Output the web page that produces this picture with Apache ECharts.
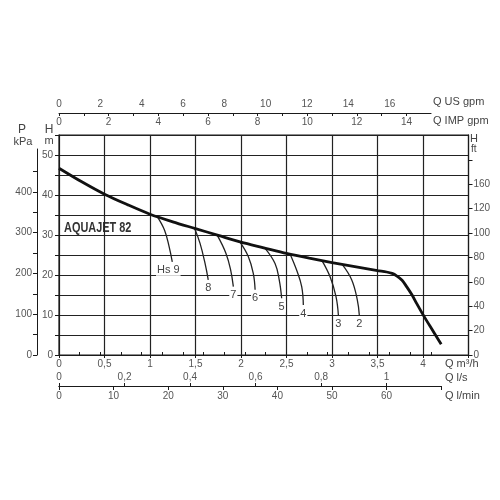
<!DOCTYPE html>
<html>
<head>
<meta charset="utf-8">
<script src="https://cdn.jsdelivr.net/npm/echarts@6/dist/echarts.min.js"></script>
<style>
html,body{margin:0;padding:0;background:#fff;}
#chart{width:500px;height:500px;}
</style>
</head>
<body>
<div id="chart"></div>
<script>
// ---- data ----
const mainQ = [0, 0.25, 0.5, 0.75, 1.0, 1.25, 1.5, 1.75, 2.0, 2.25, 2.5, 2.75, 3.0, 3.25, 3.5, 3.6, 3.66, 3.71, 3.77, 3.82, 3.88, 3.93, 4.0, 4.08, 4.2];
const mainH = [46.7, 43.3, 40.2, 37.6, 35.2, 33.3, 31.6, 29.9, 28.2, 26.8, 25.4, 24.2, 23.1, 22.1, 21.1, 20.75, 20.4, 19.8, 18.7, 17.1, 15.0, 12.9, 10.1, 7.1, 2.7];

const branchNames = ['Hs 9', '8', '7', '6', '5', '4', '3', '2'];
const branchQ = [
  [1.08, 1.16, 1.21, 1.245],
  [1.49, 1.55, 1.605, 1.64],
  [1.74, 1.835, 1.886, 1.916],
  [1.99, 2.08, 2.135, 2.155],
  [2.26, 2.374, 2.42, 2.447],
  [2.54, 2.61, 2.667, 2.685],
  [2.89, 2.978, 3.044, 3.07],
  [3.11, 3.216, 3.278, 3.3]
];
const branchH = [
  [34.6, 31.2, 27.1, 23.3],
  [31.6, 27.9, 22.9, 18.8],
  [29.9, 25.4, 21.3, 17.1],
  [28.2, 24.6, 20.4, 16.3],
  [26.8, 22.9, 18.8, 14.2],
  [25.2, 21.3, 17.1, 12.5],
  [23.6, 19.6, 14.6, 10.0],
  [22.7, 18.8, 13.8, 10.0]
];

// tick labels
const lsLabels = [0, 0.2, 0.4, 0.6, 0.8, 1];
const lminLabels = [0, 10, 20, 30, 40, 50, 60];
const lminTicks = [0, 10, 20, 30, 40, 50, 60, 70];
const usLabels = [0, 2, 4, 6, 8, 10, 12, 14, 16];
const usTicks = [0,1,2,3,4,5,6,7,8,9,10,11,12,13,14,15,16,17,18];
const impLabels = [0, 2, 4, 6, 8, 10, 12, 14];
const impTicks = [0,1,2,3,4,5,6,7,8,9,10,11,12,13,14];
const kpaLabels = [0, 100, 200, 300, 400];
const kpaTicks = [0, 50, 100, 150, 200, 250, 300, 350, 400, 450];
const ftTicks = [0, 20, 40, 60, 80, 100, 120, 140, 160];
const ftLabels = ['0', '20', '40', '60', '80', '100', '120', '160', ''];

// ---- unit conversions ----
const M3H_PER_LS = 3.6, M3H_PER_LMIN = 0.06, M3H_PER_USGPM = 0.227125, M3H_PER_IMPGPM = 0.272765;
const M_PER_KPA = 0.101972, M_PER_FT = 0.3048;

// ---- layout ----
const plotL = 59, plotR = 468.5, plotT = 135, plotB = 355;
const qMax = 4.5, hMax = 55;
const pxPerQ = (plotR - plotL) / qMax;
const pxPerM = (plotB - plotT) / hMax;
const lminEnd = 70, usEnd = 18;
const bottomQ = lminEnd * M3H_PER_LMIN;
const topQ = usEnd * M3H_PER_USGPM;
const kpaTop = 149;
const kpaMax = ((plotB - kpaTop) / pxPerM) / M_PER_KPA;

const FONT = 'Liberation Sans, Arial, sans-serif';
const lblColor = '#555';
const lineCol = '#1a1a1a';

const fmtComma = v => String(v).replace('.', ',');

const series = [{
  type: 'line', xAxisIndex: 0, yAxisIndex: 0,
  data: mainQ.map((q, i) => [q, mainH[i]]),
  smooth: 0.3, symbol: 'none',
  lineStyle: {color: '#111', width: 2.8}, z: 5, silent: true
}];
branchNames.forEach((name, b) => {
  const n = branchQ[b].length;
  series.push({
    type: 'line', xAxisIndex: 0, yAxisIndex: 0,
    data: branchQ[b].map((q, i) => {
      const d = {value: [q, branchH[b][i]]};
      if (i === n - 1) {
        d.label = {show: true, formatter: name, position: 'bottom', distance: 3,
          offset: b === 0 ? [-4, 0] : [0, 0],
          color: '#444', fontSize: 11, fontFamily: FONT,
          backgroundColor: '#fff', padding: [0, 1]};
      }
      return d;
    }),
    smooth: 0.4, symbol: 'circle', symbolSize: 0.01, showSymbol: true,
    itemStyle: {color: 'transparent', borderWidth: 0},
    label: {show: false},
    lineStyle: {color: '#222', width: 1.3}, z: 4, silent: true
  });
});

const axLine = {show: true, lineStyle: {color: lineCol, width: 1}};
const lbl = (extra) => Object.assign({color: lblColor, fontSize: 10, fontFamily: FONT}, extra);
const txt = (x, y, text, size, align, extra) => Object.assign({type: 'text', x: x, y: y,
  style: {text: text, font: size + 'px ' + FONT, fill: '#444', align: align, verticalAlign: 'middle', textAlign: align, textVerticalAlign: 'middle'}}, extra || {});

const option = {
  animation: false,
  backgroundColor: '#fff',
  grid: [
    {left: plotL, top: plotT, width: plotR - plotL, height: plotB - plotT, show: true, borderColor: lineCol, borderWidth: 1.2, backgroundColor: 'transparent'},
    {left: plotL, top: plotT, width: bottomQ * pxPerQ, height: 386 - plotT},
    {left: plotL, top: 113, width: topQ * pxPerQ, height: plotB - 113},
    {left: 37, top: kpaTop, width: plotR - 37, height: plotB - kpaTop}
  ],
  xAxis: [
    {type: 'value', gridIndex: 0, min: 0, max: qMax, interval: 0.5, position: 'bottom',
      axisLine: axLine, axisTick: {show: true, length: 3, lineStyle: {color: lineCol}},
      axisLabel: lbl({margin: 4, formatter: v => v >= qMax ? '' : fmtComma(v)}),
      splitLine: {show: true, lineStyle: {color: '#222', width: 1.2}}},
    {type: 'value', gridIndex: 1, min: 0, max: bottomQ / M3H_PER_LS, position: 'bottom',
      axisLine: axLine,
      axisTick: {show: true, inside: true, length: 3, customValues: lsLabels, lineStyle: {color: lineCol}},
      axisLabel: lbl({inside: true, margin: 4, customValues: lsLabels, formatter: fmtComma}),
      splitLine: {show: false}},
    {type: 'value', gridIndex: 1, min: 0, max: lminEnd, position: 'bottom',
      axisLine: axLine,
      axisTick: {show: true, length: 4, customValues: lminTicks, lineStyle: {color: lineCol}},
      axisLabel: lbl({margin: 5, customValues: lminLabels}),
      splitLine: {show: false}},
    {type: 'value', gridIndex: 2, min: 0, max: usEnd, position: 'top',
      axisLine: axLine,
      axisTick: {show: true, length: 3, customValues: usTicks, lineStyle: {color: lineCol}},
      axisLabel: lbl({margin: 4, customValues: usLabels}),
      splitLine: {show: false}},
    {type: 'value', gridIndex: 2, min: 0, max: topQ / M3H_PER_IMPGPM, position: 'top',
      axisLine: axLine,
      axisTick: {show: true, inside: true, length: 3, customValues: impTicks, lineStyle: {color: lineCol}},
      axisLabel: lbl({inside: true, margin: 4, customValues: impLabels}),
      splitLine: {show: false}},
    {type: 'value', gridIndex: 3, min: 0, max: 1, show: false}
  ],
  yAxis: [
    {type: 'value', gridIndex: 0, min: 0, max: hMax, interval: 5, position: 'left',
      axisLine: axLine, axisTick: {show: true, length: 4, lineStyle: {color: lineCol}},
      axisLabel: lbl({margin: 6, formatter: v => (v % 10 === 0 && v <= 50) ? String(v) : ''}),
      splitLine: {show: true, lineStyle: {color: '#222', width: 1.2}}},
    {type: 'value', gridIndex: 0, min: 0, max: hMax / M_PER_FT, position: 'right',
      axisLine: axLine,
      axisTick: {show: true, length: 4, customValues: ftTicks, lineStyle: {color: lineCol}},
      axisLabel: lbl({margin: 5, customValues: ftTicks, formatter: v => ftLabels[ftTicks.indexOf(v)] || ''}),
      splitLine: {show: false}},
    {type: 'value', gridIndex: 1, min: 0, max: 1, show: false},
    {type: 'value', gridIndex: 2, min: 0, max: 1, show: false},
    {type: 'value', gridIndex: 3, min: 0, max: kpaMax, position: 'left',
      axisLine: axLine,
      axisTick: {show: true, length: 4, customValues: kpaTicks, lineStyle: {color: lineCol}},
      axisLabel: lbl({margin: 5, customValues: kpaLabels}),
      splitLine: {show: false}}
  ],
  graphic: [
    {type: 'text', x: 64, y: 228, scaleX: 0.78,
      style: {text: 'AQUAJET 82', font: 'bold 14px ' + FONT, fill: '#333', align: 'left', verticalAlign: 'middle', textAlign: 'left', textVerticalAlign: 'middle'}},
    txt(22, 130, 'P', 12, 'center'),
    txt(23, 142, 'kPa', 11, 'center'),
    txt(49, 130, 'H', 12, 'center'),
    txt(49, 141, 'm', 11, 'center'),
    txt(470, 139, 'H', 11, 'left'),
    txt(471, 149, 'ft', 10, 'left'),
    txt(433, 102, 'Q US gpm', 11, 'left'),
    txt(433, 121, 'Q IMP gpm', 11, 'left'),
    txt(445, 364, 'Q m³/h', 11, 'left'),
    txt(445, 378, 'Q l/s', 11, 'left'),
    txt(445, 396, 'Q l/min', 11, 'left')
  ],
  series: series
};

const chart = echarts.init(document.getElementById('chart'), null, {renderer: 'canvas'});
chart.setOption(option);
</script>
</body>
</html>
